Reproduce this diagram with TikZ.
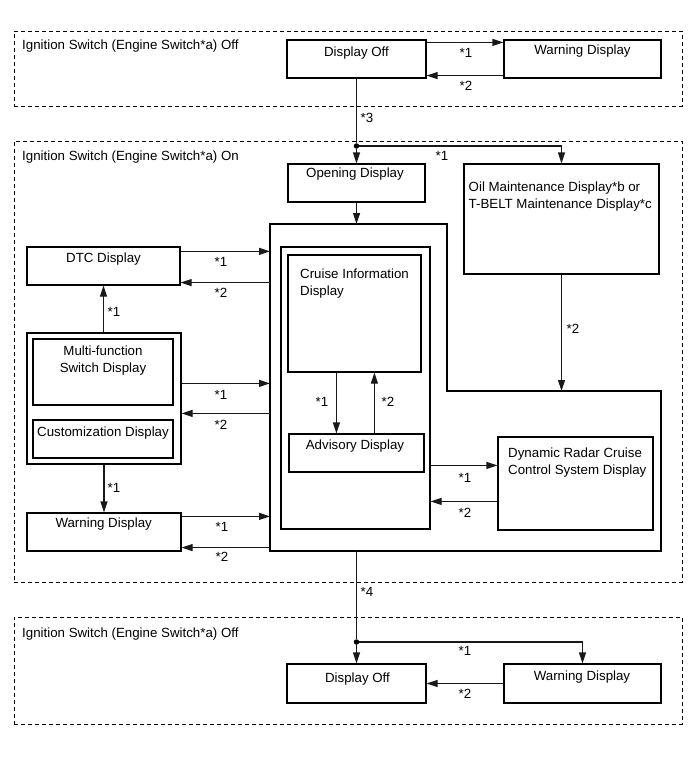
\documentclass[tikz,border=0pt]{standalone}
\usepackage{fontspec}
\setmainfont{Liberation Sans}
\usetikzlibrary{arrows.meta,calc,fit}
\begin{document}
\begin{tikzpicture}[x=1pt,y=-1pt,
  box/.style={draw, line width=1.2pt, inner sep=0pt},
  zone/.style={draw, dash pattern=on 4pt off 3pt, line width=0.9pt, inner sep=0pt},
  conn/.style={line width=1.2pt, draw=black!90},
  arr/.style={conn, -{Triangle[length=11pt,width=7pt]}},
  txt/.style={font=\fontsize{13.3}{17}\selectfont, inner sep=0pt},
  lab/.style={txt, anchor=base},
  ltxt/.style={txt, anchor=base west},
  mtxt/.style={txt, anchor=north west, align=left},
  dot/.style={circle, fill=black, inner sep=0pt, minimum size=5.5pt}]

\useasboundingbox (0,0) rectangle (691,757);

% ---------- zones
\node[zone, fit={(14,31)(682,106)}] (zone1) {};
\node[zone, fit={(14,141)(682,582)}] (zone2) {};
\node[zone, fit={(14,617)(682,724)}] (zone3) {};
\node[ltxt] (zone1t) at (22,49.8) {Ignition Switch (Engine Switch*a) Off};
\node[ltxt] (zone2t) at (22,160.8) {Ignition Switch (Engine Switch*a) On};
\node[ltxt] (zone3t) at (22,637.8) {Ignition Switch (Engine Switch*a) Off};

% ---------- top zone
\node[box, fit={(287,40)(426,78)}] (doff1) {};
\node[box, fit={(504,40)(661,78)}] (warn1) {};
\node[lab] (doff1t) at (356.5,56.8) {Display Off};
\node[lab] (warn1t) at (582.5,54.8) {Warning Display};
\draw[arr] ([yshift=-3pt]doff1.north east) -- ([yshift=-3pt]doff1.north east -| warn1.west);
\draw[arr] ([yshift=3pt]warn1.south west) -- ([yshift=3pt]warn1.south west -| doff1.east);
\node[lab] (l1a) at (466,57.8) {*1};
\node[lab] (l1b) at (466,90.8) {*2};

% ---------- middle zone
\node[dot] (dot1) at (356.5,146) {};
\draw[conn] (doff1.south) -- (dot1);
\node[lab] (l3) at (367,122) {*3};

\node[box, fit={(288,164)(425,202)}] (opening) {};
\node[lab] (openingt) at (355,177.8) {Opening Display};
\node[box, fit={(464,164)(659,274)}] (oil) {};
\node[mtxt] (oilt) at (468.5,181.5) {Oil Maintenance Display*b or\\T-BELT Maintenance Display*c};

\draw[arr] (dot1) -- (opening.north);
\draw[arr] (dot1) -| (oil.north);
\node[lab] (l2a) at (442,160.8) {*1};

% big L-shaped container
\coordinate (bigNW) at (270,224);
\coordinate (bigStep) at (447,391);
\coordinate (bigSE) at (661,551);
\coordinate (bigBot) at (356.5,551);
\draw[line width=1.2pt] (bigNW) -| (bigStep) -| (bigSE) -| (bigNW) -- cycle;

\draw[arr] (opening.south) -- (opening.south |- bigNW);
\draw[arr] (oil.south) -- (oil.south |- bigStep);
\node[lab] (l2b) at (573,333.8) {*2};

\node[box, fit={(281,247)(430,529)}] (inner) {};
\node[box, fit={(288,255)(421,372)}] (cruise) {};
\node[mtxt] (cruiset) at (300,269) {Cruise Information\\Display};
\node[box, fit={(289,434)(424,472)}] (adv) {};
\node[lab] (advt) at (355,449.8) {Advisory Display};
\draw[arr] ([xshift=49pt]cruise.south west) -- ([xshift=49pt]cruise.south west |- adv.north);
\draw[arr] ([xshift=87pt]cruise.south west |- adv.north) -- ([xshift=87pt]cruise.south west);
\node[lab] (l4a) at (322,406.8) {*1};
\node[lab] (l4b) at (388,406.8) {*2};

\node[box, fit={(498,437)(653,530)}] (radar) {};
\node[mtxt] (radart) at (508,448) {Dynamic Radar Cruise\\Control System Display};
\draw[arr] ([yshift=-29pt]radar.north west -| inner.east) -- ([yshift=-29pt]radar.north west);
\draw[arr] ([yshift=-65pt]radar.north west) -- ([yshift=-65pt]radar.north west -| inner.east);
\node[lab] (l5a) at (465,482.8) {*1};
\node[lab] (l5b) at (465,517.8) {*2};

% left column
\node[box, fit={(27,247)(180,285)}] (dtc) {};
\node[lab] (dtct) at (103.5,262.8) {DTC Display};
\draw[arr] ([yshift=-5pt]dtc.north east) -- ([yshift=-5pt]dtc.north east -| bigNW);
\draw[arr] ([yshift=3pt]dtc.south east -| bigNW) -- ([yshift=3pt]dtc.south east);
\node[lab] (l6a) at (221,266.8) {*1};
\node[lab] (l6b) at (221,297.8) {*2};

\node[box, fit={(27,333)(181,464)}] (grp) {};
\node[box, fit={(33,339)(173,405)}] (mfs) {};
\node[txt, anchor=north, align=center] (mfst) at (103,346) {Multi-function\\Switch Display};
\node[box, fit={(33,420)(173,458)}] (cust) {};
\node[lab] (custt) at (103,436.8) {Customization Display};
\draw[arr] (grp.north -| dtc.south) -- (dtc.south);
\node[lab] (l7) at (114,316.8) {*1};
\draw[arr] ([yshift=-51pt]grp.north east) -- ([yshift=-51pt]grp.north east -| bigNW);
\draw[arr] ([yshift=-81pt]grp.north east -| bigNW) -- ([yshift=-81pt]grp.north east);
\node[lab] (l8a) at (221,399.8) {*1};
\node[lab] (l8b) at (221,429.8) {*2};

\node[box, fit={(27,513)(181,551)}] (warnL) {};
\node[lab] (warnLt) at (103.7,527.8) {Warning Display};
\draw[arr] (grp.south) -- (warnL.north);
\node[lab] (l9) at (114,492.8) {*1};
\draw[arr] ([yshift=-4pt]warnL.north east) -- ([yshift=-4pt]warnL.north east -| bigNW);
\draw[arr] ([yshift=4pt]warnL.south east -| bigNW) -- ([yshift=4pt]warnL.south east);
\node[lab] (l10a) at (222,531.8) {*1};
\node[lab] (l10b) at (222,561.8) {*2};

% ---------- bottom zone
\node[dot] (dot2) at (356.5,642) {};
\draw[conn] (bigBot) -- (dot2);
\node[lab] (l11) at (367,596.8) {*4};
\node[box, fit={(287,664)(426,703)}] (doff2) {};
\node[box, fit={(504,664)(661,703)}] (warn2) {};
\node[lab] (doff2t) at (357.5,682.8) {Display Off};
\node[lab] (warn2t) at (582,680.8) {Warning Display};
\draw[arr] (dot2) -- (doff2.north);
\draw[arr] (dot2) -| (warn2.north);
\draw[arr] (warn2.west) -- (warn2.west -| doff2.east);
\node[lab] (l12a) at (465,655.8) {*1};
\node[lab] (l12b) at (465,698.8) {*2};
\end{tikzpicture}
\end{document}
